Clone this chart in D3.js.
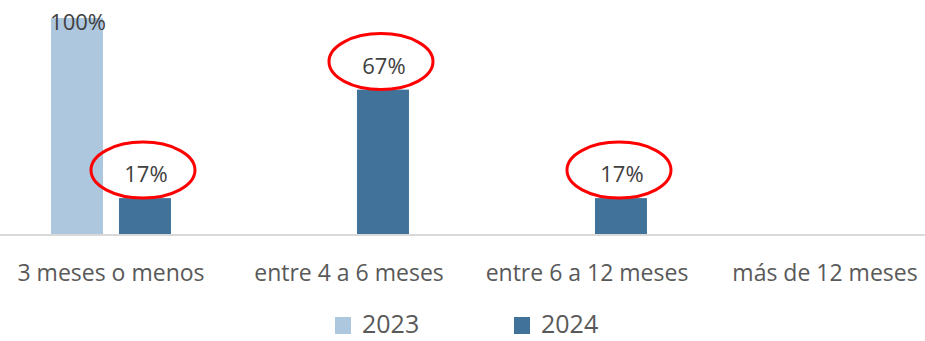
<!DOCTYPE html>
<html>
<head>
<meta charset="utf-8">
<script src="https://cdn.jsdelivr.net/npm/d3@7"></script>
<style>
  html, body { margin: 0; padding: 0; background: #ffffff; }
  svg { display: block; font-family: "Open Sans", "Noto Sans", sans-serif; }
</style>
</head>
<body>
<svg id="chart" width="925" height="341"></svg>
<script>
// Data
const categories = ["3 meses o menos", "entre 4 a 6 meses", "entre 6 a 12 meses", "más de 12 meses"];
const seriesNames = ["2023", "2024"];
const values2023 = [100, 0, 0, 0];
const values2024 = [17, 67, 17, 0];
const highlighted = ["2024"];
const colors = { "2023": "#adc7de", "2024": "#41739a" };

const svg = d3.select("#chart");
const W = 925, H = 341;
const baseline = 235;

const rows = categories.map((c, i) => ({
  category: c,
  values: [
    { series: "2023", value: values2023[i] },
    { series: "2024", value: values2024[i] }
  ]
}));

const x0 = d3.scaleBand()
  .domain(categories)
  .range([-8, 944])
  .paddingInner(0.496)
  .paddingOuter(0.248);

const x1 = d3.scaleBand()
  .domain(seriesNames)
  .range([0, x0.bandwidth()])
  .paddingInner(0.235)
  .paddingOuter(0);

const y = d3.scaleLinear().domain([0, 100]).range([baseline, 18]);

// Bars
const groups = svg.append("g").selectAll("g")
  .data(rows).join("g")
  .attr("transform", d => `translate(${x0(d.category)},0)`);

groups.selectAll("rect")
  .data(d => d.values.filter(v => v.value > 0))
  .join("rect")
  .attr("x", d => x1(d.series))
  .attr("y", d => y(d.value))
  .attr("width", x1.bandwidth())
  .attr("height", d => baseline - y(d.value))
  .attr("fill", d => colors[d.series]);

// Category axis line
svg.append("line")
  .attr("x1", 0).attr("x2", W)
  .attr("y1", baseline).attr("y2", baseline)
  .attr("stroke", "#d9d9d9").attr("stroke-width", 2);

// Category labels
const xAxis = d3.axisBottom(x0).tickSize(0).tickPadding(0);
const axisG = svg.append("g").attr("transform", `translate(0,${baseline})`).call(xAxis);
axisG.select(".domain").remove();
axisG.selectAll("text")
  .attr("dy", null)
  .attr("y", 46)
  .attr("font-size", 23)
  .attr("font-family", "'Open Sans', sans-serif")
  .attr("fill", "#595959");

// Value labels (kept inside the plot when a bar reaches the top)
groups.each(function (row) {
  const g = d3.select(this);
  row.values.filter(v => v.value > 0).forEach(v => {
    const cx = x1(v.series) + x1.bandwidth() / 2;
    const top = y(v.value);
    const ty = Math.max(top - 16, 30);
    g.append("text")
      .attr("x", cx + 1)
      .attr("y", ty)
      .attr("text-anchor", "middle")
      .attr("font-size", 22)
      .attr("fill", "#404040")
      .text(v.value + "%");
    if (highlighted.includes(v.series)) {
      g.append("ellipse")
        .attr("cx", cx - 2)
        .attr("cy", top - 28)
        .attr("rx", 52)
        .attr("ry", 28)
        .attr("fill", "none")
        .attr("stroke", "#ff0000")
        .attr("stroke-width", 3);
    }
  });
});

// Legend
const legend = svg.append("g");
const legendItems = [
  { name: "2023", x: 335 },
  { name: "2024", x: 514 }
];
legendItems.forEach(item => {
  legend.append("rect")
    .attr("x", item.x).attr("y", 317)
    .attr("width", 16).attr("height", 17)
    .attr("fill", colors[item.name]);
  legend.append("text")
    .attr("x", item.x + 27).attr("y", 333)
    .attr("font-size", 25)
    .attr("fill", "#595959")
    .text(item.name);
});
</script>
</body>
</html>
